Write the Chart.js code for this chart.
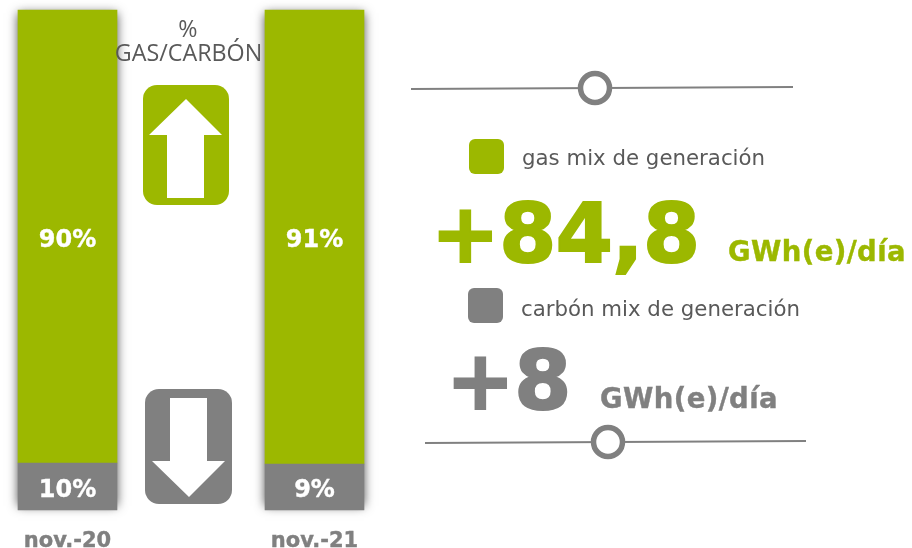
<!DOCTYPE html>
<html>
<head>
<meta charset="utf-8">
<style>
    html, body { margin: 0; padding: 0; background: #fff; }
    canvas { display: block; }
</style>
<script src="https://cdn.jsdelivr.net/npm/chart.js@4/dist/chart.umd.min.js"></script>
</head>
<body>
<canvas id="chart" width="912" height="548"></canvas>
<script>
var categories = ["nov.-20", "nov.-21"];
var coalValues = [9.4, 9.2];
var gasValues = [90.6, 90.8];
var coalLabels = ["10%", "9%"];
var gasLabels = ["90%", "91%"];

var GREEN = "#9cb800";
var GREY = "#808080";
var DARK = "#595959";
var SANS = '"DejaVu Sans", Verdana, sans-serif';

// stroke engorda la negrita, DejaVu queda mas fina que el original
function text(ctx, str, x, y, font, color, align, spacing, stroke) {
    ctx.font = font;
    ctx.fillStyle = color;
    ctx.textAlign = align || "left";
    ctx.textBaseline = "alphabetic";
    ctx.letterSpacing = spacing || "0px";
    ctx.fillText(str, x, y);
    if (stroke) {
        ctx.strokeStyle = color;
        ctx.lineWidth = stroke;
        ctx.lineJoin = "miter";
        ctx.miterLimit = 2;
        ctx.strokeText(str, x, y);
    }
    ctx.letterSpacing = "0px";
}

function roundBox(ctx, x, y, w, h, r, color) {
    ctx.fillStyle = color;
    ctx.beginPath();
    ctx.roundRect(x, y, w, h, r);
    ctx.fill();
}

function poly(ctx, pts) {
    ctx.fillStyle = "#fff";
    ctx.beginPath();
    pts.forEach(function (p, i) {
        if (i === 0) ctx.moveTo(p[0], p[1]); else ctx.lineTo(p[0], p[1]);
    });
    ctx.closePath();
    ctx.fill();
}

function divider(ctx, x1, y1, x2, y2, cx, cy) {
    ctx.strokeStyle = GREY;
    ctx.lineWidth = 2;
    ctx.beginPath();
    ctx.moveTo(x1, y1);
    ctx.lineTo(x2, y2);
    ctx.stroke();
    ctx.fillStyle = "#fff";
    ctx.lineWidth = 5.5;
    ctx.beginPath();
    ctx.arc(cx, cy, 14.5, 0, Math.PI * 2);
    ctx.fill();
    ctx.stroke();
}

// sombra lateral: una sola por columna, debajo de los dos tramos
var barShadow = {
    id: "barShadow",
    beforeDatasetsDraw: function (chart) {
        var ctx = chart.ctx;
        var coal = chart.getDatasetMeta(0).data;
        var gas = chart.getDatasetMeta(1).data;
        ctx.save();
        ctx.shadowColor = "rgba(0,0,0,0.7)";
        ctx.shadowBlur = 10;
        ctx.fillStyle = "#fff";
        gas.forEach(function (bar, i) {
            var top = bar.y + 3;
            ctx.fillRect(bar.x - bar.width / 2, top, bar.width, coal[i].base - top - 4);
        });
        ctx.restore();
    }
};

// etiquetas de las barras y panel de la derecha
var overlay = {
    id: "overlay",
    afterDraw: function (chart) {
        var ctx = chart.ctx;
        ctx.save();

        [coalLabels, gasLabels].forEach(function (labels, d) {
            chart.getDatasetMeta(d).data.forEach(function (bar, i) {
                var c = bar.getCenterPoint();
                text(ctx, labels[i], c.x, c.y + 10, "bold 24px " + SANS, "#fff", "center", "0px", 0.4);
            });
        });

        text(ctx, "%", 188, 37, '23.3px "Open Sans"', DARK, "center");
        text(ctx, "GAS/CARBÓN", 188.5, 61, '23.3px "Open Sans"', DARK, "center");

        roundBox(ctx, 143, 85, 86, 120, 14, GREEN);
        poly(ctx, [[186, 99], [222, 135], [204, 135], [204, 198], [167, 198], [167, 135], [149, 135]]);

        roundBox(ctx, 145, 389, 87, 115, 14, GREY);
        poly(ctx, [[170, 398], [207, 398], [207, 461], [225, 461], [189, 497], [152, 461], [170, 461]]);

        divider(ctx, 411, 89, 793, 87, 595, 88);
        divider(ctx, 425, 443, 806, 441, 608, 442);

        roundBox(ctx, 469, 139, 35, 35, 6, GREEN);
        text(ctx, "gas mix de generación", 522, 165, "21.3px " + SANS, DARK);
        text(ctx, "+84,8", 431, 262, "bold 82px " + SANS, GREEN, "left", "-0.5px", 2);
        text(ctx, "GWh(e)/día", 728, 261, "bold 27.5px " + SANS, GREEN, "left", "0.4px", 0.4);

        roundBox(ctx, 468, 288, 35, 35, 6, GREY);
        text(ctx, "carbón mix de generación", 521, 316, "21.3px " + SANS, DARK);
        text(ctx, "+8", 446, 409, "bold 82px " + SANS, GREY, "left", "-0.5px", 2);
        text(ctx, "GWh(e)/día", 600, 407.5, "bold 27.5px " + SANS, GREY, "left", "0.4px", 0.4);

        ctx.restore();
    }
};

new Chart(document.getElementById("chart"), {
    type: "bar",
    data: {
        labels: categories,
        datasets: [
            { label: "carbón", data: coalValues, backgroundColor: GREY, barThickness: 99, clip: false },
            { label: "gas", data: gasValues, backgroundColor: GREEN, barThickness: 99, clip: false }
        ]
    },
    options: {
        responsive: false,
        animation: false,
        layout: { padding: { left: 67.5, right: 597.5, top: 10, bottom: 0 } },
        plugins: { legend: { display: false }, tooltip: { enabled: false } },
        scales: {
            x: {
                stacked: true,
                offset: false,
                grid: { display: false },
                border: { display: false },
                afterFit: function (scale) { scale.height = 38; },
                ticks: {
                    autoSkip: false,
                    maxRotation: 0,
                    padding: 11,
                    color: GREY,
                    textStrokeColor: GREY,
                    textStrokeWidth: 0.4,
                    font: { family: SANS, size: 21, weight: "bold" }
                }
            },
            y: {
                stacked: true,
                display: false,
                min: 0,
                max: 100
            }
        }
    },
    plugins: [barShadow, overlay]
});
</script>
</body>
</html>
